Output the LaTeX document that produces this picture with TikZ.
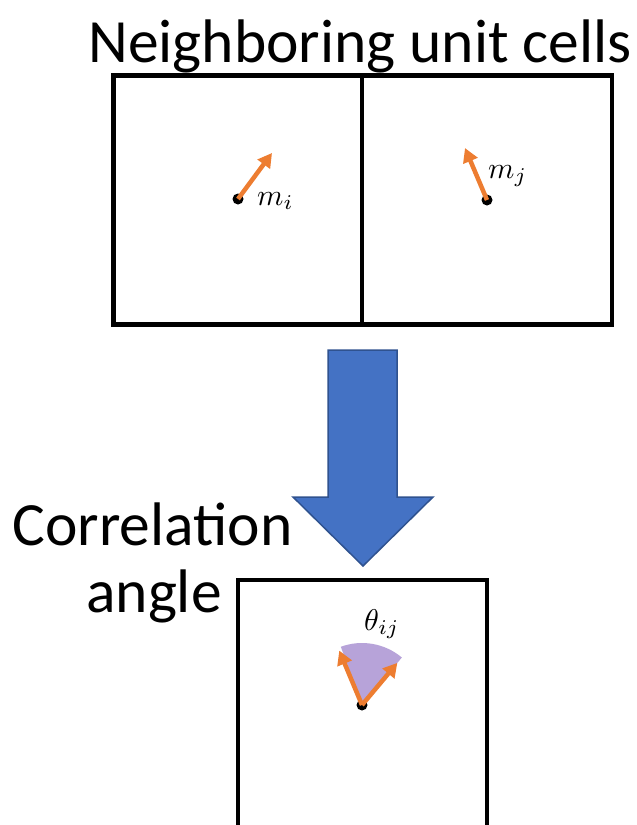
\documentclass[tikz,border=0pt]{standalone}
\usepackage{graphicx}
\usepackage{fontspec}
\setmainfont{Carlito}
\usetikzlibrary{arrows.meta}
\definecolor{spinorange}{RGB}{237,125,49}
\definecolor{arrowblue}{RGB}{68,114,196}
\definecolor{arrowedge}{RGB}{47,82,143}
\definecolor{wedgepurple}{RGB}{183,163,217}
\newcommand{\bigmath}[1]{\scalebox{3}{$#1$}}
\tikzset{
  cellbox/.style={draw=black, line width=4.5pt, inner sep=0pt, minimum height=249pt},
  bigtext/.style={font=\fontsize{61.5}{72}\selectfont, inner sep=0pt, anchor=base},
  spin/.style={draw=spinorange, line width=4.5pt, -{Triangle[length=14pt,width=15pt]}},
  site/.style={circle, fill=black, inner sep=0pt, minimum size=11pt},
  mathlabel/.style={inner sep=0pt, anchor=base west}
}
\begin{document}
\begin{tikzpicture}[x=1pt, y=-1pt]
\useasboundingbox (0,0) rectangle (637,825);
% title
\node[bigtext] (title) at (360,62) {Neighboring unit cells};
% neighbouring cells
\node[cellbox, minimum width=248.5pt] (celli) at (237.75,200) {};
\node[cellbox, minimum width=250pt] (cellj) at (487,200) {};
% spins
\node[site] (si) at (238,199) {};
\coordinate (ti) at (272,153);
\draw[spin] (si.center) -- (ti);
\node[mathlabel] (mi) at (257,205) {\bigmath{m_i}};
\node[site] (sj) at (487,200) {};
\coordinate (tj) at (465,148);
\draw[spin] (sj.center) -- (tj);
\node[mathlabel] (mj) at (488,178) {\bigmath{m_j}};
% big blue arrow
\draw[fill=arrowblue, draw=arrowedge, line width=1.5pt, line join=miter]
  (328,350) -- (397,350) -- (397,497) -- (433,497) -- (363,566) -- (293,497) -- (328,497) -- cycle;
% labels
\node[bigtext] (corr) at (152.5,545) {Correlation};
\node[bigtext] (angle) at (154,612) {angle};
% bottom cell (open at the bottom edge)
\draw[line width=4.5pt, line join=miter] (238,825) -- (238,580) -- (487,580) -- (487,825);
% correlation angle
\node[site] (sc) at (362,705) {};
\fill[wedgepurple] (sc.center) -- ++(-110:62) arc[start angle=-110, end angle=-50, radius=62] -- cycle;
\draw[spin] (sc.center) -- ++(-112.7:59) coordinate (ta);
\draw[spin] (sc.center) -- ++(-50:55) coordinate (tb);
\node[mathlabel] (theta) at (364,630) {\bigmath{\theta_{ij}}};
\end{tikzpicture}
\end{document}
